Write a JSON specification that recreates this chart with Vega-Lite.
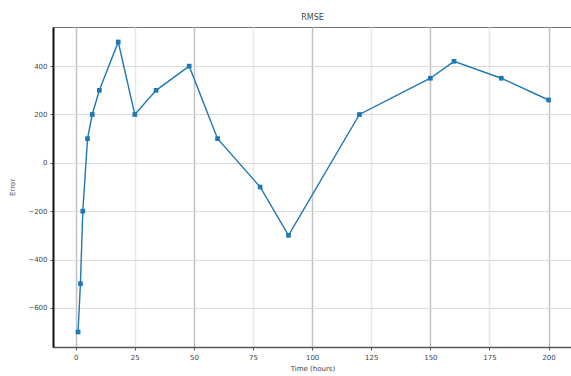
{
  "$schema": "https://vega.github.io/schema/vega-lite/v6.json",
  "autosize": "none",
  "width": 519,
  "height": 320,
  "padding": {"left": 53, "top": 27, "right": 0, "bottom": 29},
  "background": "white",
  "config": {
    "font": "DejaVu Sans",
    "view": {"stroke": "#777", "strokeWidth": 1}
  },
  "title": {
    "text": "RMSE",
    "fontSize": 8,
    "fontWeight": "normal",
    "color": "#444",
    "offset": 5
  },
  "data": {
    "values": [
      {"t": 1, "err": -700},
      {"t": 2, "err": -500},
      {"t": 3, "err": -200},
      {"t": 5, "err": 100},
      {"t": 7, "err": 200},
      {"t": 10, "err": 300},
      {"t": 18, "err": 500},
      {"t": 25, "err": 200},
      {"t": 34, "err": 300},
      {"t": 48, "err": 400},
      {"t": 60, "err": 100},
      {"t": 78, "err": -100},
      {"t": 90, "err": -300},
      {"t": 120, "err": 200},
      {"t": 150, "err": 350},
      {"t": 160, "err": 420},
      {"t": 180, "err": 350},
      {"t": 200, "err": 260}
    ]
  },
  "encoding": {
    "x": {
      "field": "t",
      "type": "quantitative",
      "scale": {"domain": [-9.6, 209.9], "nice": false, "zero": false},
      "axis": {
        "title": "Time (hours)",
        "values": [0, 25, 50, 75, 100, 125, 150, 175, 200],
        "labelFontSize": 7,
        "labelColor": "#444",
        "titleFontSize": 7,
        "titleFontWeight": "normal",
        "titleColor": "#444",
        "titlePadding": 4,
        "tickSize": 3,
        "tickColor": "#555",
        "labelPadding": 3,
        "domainColor": "#555",
        "domainWidth": 1.5,
        "gridColor": {"condition": {"test": "datum.value % 50 === 0", "value": "#c2c2c2"}, "value": "#e8e8e8"},
        "gridWidth": 1.5
      }
    },
    "y": {
      "field": "err",
      "type": "quantitative",
      "scale": {"domain": [-762, 562], "nice": false, "zero": false},
      "axis": {
        "title": "Error",
        "values": [-600, -400, -200, 0, 200, 400],
        "labelFontSize": 7,
        "labelColor": "#444",
        "titleFontSize": 7,
        "titleFontWeight": "normal",
        "titleColor": "#444",
        "titlePadding": 12,
        "tickSize": 3,
        "tickColor": "#555",
        "labelPadding": 3,
        "domainColor": "#111",
        "domainWidth": 2,
        "gridColor": "#dcdcdc",
        "gridWidth": 1.2
      }
    }
  },
  "layer": [
    {
      "mark": {"type": "line", "color": "#1f77b4", "strokeWidth": 1.4}
    },
    {
      "mark": {"type": "point", "filled": true, "shape": "square", "size": 22, "color": "#1f77b4", "opacity": 1}
    }
  ]
}
